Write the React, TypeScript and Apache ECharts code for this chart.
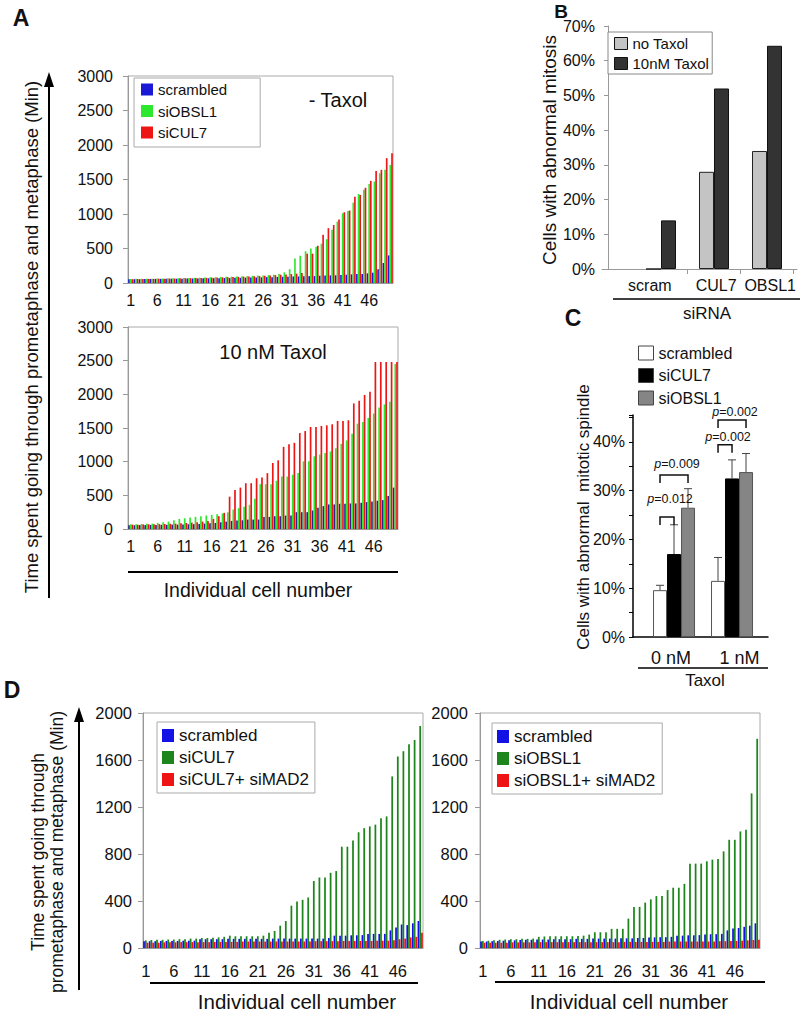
import React, { useEffect, useRef } from 'react';
import * as echarts from 'echarts';

const FONT = 'Liberation Sans, Arial, sans-serif';

// ---------- DATA ----------
const cells = Array.from({ length: 50 }, (_, i) => String(i + 1));

// Panel A, - Taxol
const aNoTaxolScrambled = [55,55,55,58,58,60,60,60,62,62, 62,65,65,65,68,68,70,70,72,72, 75,75,78,80,80,82,85,85,88,90, 92,95,95,98,100,100,105,108,110,112, 115,120,125,130,130,140,150,200,290,400];
const aNoTaxolOBSL1 = [58,60,60,62,62,65,65,68,70,70, 72,72,75,78,80,82,85,88,90,92, 95,98,100,105,108,110,115,120,130,155, 200,355,395,460,500,525,570,635,770,890, 1010,1045,1165,1290,1350,1435,1470,1590,1640,1710];
const aNoTaxolCUL7 = [55,58,58,60,60,62,62,65,65,68, 70,70,72,72,75,78,80,82,85,88, 90,92,95,98,100,105,110,115,120,125, 130,135,145,425,425,540,700,795,840,920, 1025,1050,1250,1275,1380,1480,1625,1640,1810,1880];
// Panel A, 10 nM Taxol
const aTaxolScrambled = [55,55,58,58,60,60,62,62,65,65, 68,70,72,75,80,85,90,100,110,120, 125,130,140,140,140,180,180,190,190,200, 200,250,250,250,275,315,340,365,365,375, 375,380,380,390,400,410,420,430,490,615];
const aTaxolOBSL1 = [70,72,75,78,80,90,100,110,130,150, 160,170,180,190,200,210,220,230,250,290, 310,330,360,450,665,665,665,715,780,780, 805,830,1005,1005,1080,1105,1130,1150,1200,1265, 1315,1415,1565,1590,1650,1715,1805,1850,1890,2450];
const aTaxolCUL7 = [65,65,68,70,70,72,75,78,80,85, 90,95,100,110,120,150,190,240,480,580, 615,680,680,755,765,830,980,1020,1220,1260, 1280,1425,1455,1515,1515,1530,1540,1555,1605,1605, 1615,1865,1905,1990,2040,2480,2480,2480,2480,2480];

// Panel B
const bCategories = ['scram', 'CUL7', 'OBSL1'];
const bNoTaxol = [0, 28, 34];
const bTaxol = [14, 52, 64.3];

// Panel C
const cDoses = ['0 nM', '1 nM'];
const cScrambled = [9.6, 11.5];
const cCUL7 = [17.0, 32.5];
const cOBSL1 = [26.5, 33.8];
const cScrambledErr = [1.0, 4.8];
const cCUL7Err = [6.0, 3.8];
const cOBSL1Err = [3.9, 3.8];
const cBrackets = [
  { dose: 1, from: 0, to: 2, level: 33.2, labelLevel: 35.4, p: '0.009' },
  { dose: 1, from: 0, to: 1, level: 24.6, labelLevel: 28.3, p: '0.012' },
  { dose: 2, from: 0, to: 2, level: 44.5, labelLevel: 46.2, p: '0.002' },
  { dose: 2, from: 0, to: 1, level: 39.4, labelLevel: 40.9, p: '0.002' },
];

// Panel D
const dCUL7Scrambled = [58,58,58,60,60,60,60,62,62,62, 75,75,75,75,75,78,78,78,78,78, 78,78,78,80,80,80,80,80,80,80, 80,80,80,85,105,105,105,108,108,110, 120,120,120,120,150,175,200,195,210,230];
const dCUL7 = [65,68,70,70,72,72,75,75,80,80, 85,85,88,90,95,105,100,100,100,100, 100,105,130,145,190,230,360,395,410,430, 570,600,600,640,655,862,862,915,985,1020, 1035,1050,1105,1120,1460,1630,1675,1735,1770,1890];
const dCUL7MAD2 = [45,45,45,48,48,48,50,50,50,50, 50,50,52,52,52,52,52,55,55,55, 55,55,55,55,55,55,55,55,55,55, 58,58,58,58,58,60,60,60,60,60, 60,62,62,62,65,75,80,90,95,130];
const dOBSL1Scrambled = [55,55,58,60,62,65,65,68,70,70, 72,72,72,75,75,75,75,78,78,78, 80,80,80,80,80,82,82,82,85,85, 90,90,92,92,95,105,105,108,108,110, 115,117,118,120,150,165,170,180,190,210];
const dOBSL1 = [60,62,65,70,72,75,75,78,78,80, 95,98,100,100,100,100,100,102,105,114, 134,134,134,163,163,163,250,350,350,386, 414,442,442,493,513,513,546,718,718,718, 738,752,758,822,921,921,992,1006,1316,1780];
const dOBSL1MAD2 = [45,45,45,45,45,48,48,48,48,48, 50,50,50,50,50,50,50,50,50,50, 50,50,50,50,50,52,52,52,52,52, 52,52,52,55,55,55,55,55,55,55, 55,55,58,58,60,60,62,65,68,70];

// label anchor positions on the value-type x axes of B and C (in category units)
const bLabelAt = [0.79, 2.04, 3.06];
const cLabelAt = [0.95, 2.13];

const strip = (n: string) => n.slice(n.indexOf(':') + 1);
const plain = (v: number) => String(v);

function buildOption() {
  const grids = [
    { left: 128, top: 76, width: 265, height: 207, show: true, borderColor: '#aaa', borderWidth: 1 },
    { left: 128, top: 327, width: 270, height: 202, show: true, borderColor: '#aaa', borderWidth: 1 },
    { left: 602, top: 26, width: 195, height: 243 },
    { left: 633, top: 415, width: 135, height: 222 },
    { left: 143, top: 713, width: 280, height: 235, show: true, borderColor: '#aaa', borderWidth: 1 },
    { left: 480, top: 713, width: 280, height: 235, show: true, borderColor: '#aaa', borderWidth: 1 },
  ];

  const cellX = (gi: number, fs: number, margin: number) => ({
    type: 'category', gridIndex: gi, data: cells,
    axisLine: { lineStyle: { color: '#999' } },
    axisTick: { interval: 0, length: 4, lineStyle: { color: '#999' } },
    axisLabel: { interval: 4, fontSize: fs, color: '#111', margin, fontFamily: FONT },
  });
  const cellY = (gi: number, max: number, interval: number, fs: number, margin: number) => ({
    type: 'value', gridIndex: gi, min: 0, max, interval,
    splitLine: { show: false },
    axisLine: { show: true, lineStyle: { color: '#999' } },
    axisTick: { show: true, length: 5, lineStyle: { color: '#999' } },
    axisLabel: { fontSize: fs, color: '#111', margin, fontFamily: FONT, formatter: plain },
  });

  const xAxis: any[] = [
    cellX(0, 16, 9),
    cellX(1, 16, 9),
    {
      type: 'value', gridIndex: 2, min: -0.113, max: 3.566,
      splitLine: { show: false },
      axisLine: { show: true, onZero: false, lineStyle: { color: '#999' } },
      axisTick: { show: true, customValues: [1.5, 2.5, 3.5], length: 5, lineStyle: { color: '#999' } },
      axisLabel: {
        customValues: bLabelAt, fontSize: 16, color: '#111', margin: 8, fontFamily: FONT,
        formatter: (v: number) => { const i = bLabelAt.findIndex((p) => Math.abs(p - v) < 0.01); return i >= 0 ? bCategories[i] : ''; },
      },
    },
    {
      type: 'value', gridIndex: 3, min: 0.293, max: 2.62,
      splitLine: { show: false },
      axisLine: { show: true, onZero: false, lineStyle: { color: '#000', width: 1.5 } },
      axisTick: { show: false },
      axisLabel: {
        customValues: cLabelAt, fontSize: 18, color: '#111', margin: 12, fontFamily: FONT,
        formatter: (v: number) => { const i = cLabelAt.findIndex((p) => Math.abs(p - v) < 0.01); return i >= 0 ? cDoses[i] : ''; },
      },
    },
    cellX(4, 16.5, 14),
    cellX(5, 16.5, 14),
  ];

  const yAxis: any[] = [
    cellY(0, 3000, 500, 16, 15),
    cellY(1, 3000, 500, 16, 15),
    {
      type: 'value', gridIndex: 2, min: 0, max: 70, interval: 10,
      splitLine: { show: false },
      axisLine: { show: true, lineStyle: { color: '#999' } },
      axisTick: { show: true, length: 4, lineStyle: { color: '#999' } },
      axisLabel: { fontSize: 16, color: '#111', margin: 7, fontFamily: FONT, formatter: (v: number) => v + '%' },
    },
    {
      type: 'value', gridIndex: 3, min: 0, max: 45.5, interval: 5,
      splitLine: { show: false },
      axisLine: { show: true, lineStyle: { color: '#000', width: 1.5 } },
      axisTick: { show: true, length: 4, lineStyle: { color: '#000' } },
      axisLabel: { fontSize: 16, color: '#111', margin: 8, fontFamily: FONT, formatter: (v: number) => (v % 10 === 0 && v <= 40 ? v + '%' : '') },
    },
    cellY(4, 2000, 400, 16.5, 11),
    cellY(5, 2000, 400, 16.5, 12),
  ];

  const cellBar = (name: string, data: number[], color: string, ai: number) => ({
    type: 'bar', name, xAxisIndex: ai, yAxisIndex: ai, data,
    itemStyle: { color }, barGap: '0%', barCategoryGap: '6%', silent: true,
  });

  const series: any[] = [
    cellBar('A1:scrambled', aNoTaxolScrambled, '#1a1ad6', 0),
    cellBar('A1:siOBSL1', aNoTaxolOBSL1, '#2ee82e', 0),
    cellBar('A1:siCUL7', aNoTaxolCUL7, '#ee1515', 0),
    cellBar('A2:scrambled', aTaxolScrambled, '#26268a', 1),
    cellBar('A2:siOBSL1', aTaxolOBSL1, '#2ee82e', 1),
    cellBar('A2:siCUL7', aTaxolCUL7, '#ee1515', 1),
    {
      type: 'bar', name: 'B:no Taxol', xAxisIndex: 2, yAxisIndex: 2, barWidth: 15, barGap: '0%',
      data: bNoTaxol.map((v, i) => [i + 1, v]),
      itemStyle: { color: '#c4c4c4', borderColor: '#222', borderWidth: 1 },
    },
    {
      type: 'bar', name: 'B:10nM Taxol', xAxisIndex: 2, yAxisIndex: 2, barWidth: 15, barGap: '0%',
      data: bTaxol.map((v, i) => [i + 1, v]),
      itemStyle: { color: '#333333', borderColor: '#111', borderWidth: 1 },
    },
    {
      type: 'bar', name: 'C:scrambled', xAxisIndex: 3, yAxisIndex: 3, barWidth: 14, barGap: '0%',
      data: cScrambled.map((v, i) => [i + 1, v]),
      itemStyle: { color: '#ffffff', borderColor: '#555', borderWidth: 1 },
    },
    {
      type: 'bar', name: 'C:siCUL7', xAxisIndex: 3, yAxisIndex: 3, barWidth: 14, barGap: '0%',
      data: cCUL7.map((v, i) => [i + 1, v]),
      itemStyle: { color: '#000000', borderColor: '#000', borderWidth: 1 },
    },
    {
      type: 'bar', name: 'C:siOBSL1', xAxisIndex: 3, yAxisIndex: 3, barWidth: 14, barGap: '0%',
      data: cOBSL1.map((v, i) => [i + 1, v]),
      itemStyle: { color: '#858585', borderColor: '#555', borderWidth: 1 },
    },
    {
      type: 'custom', name: 'C:err', xAxisIndex: 3, yAxisIndex: 3, z: 5, silent: true,
      data: [
        ...cScrambled.map((v, i) => [i + 1, 0, v, v + cScrambledErr[i]]),
        ...cCUL7.map((v, i) => [i + 1, 1, v, v + cCUL7Err[i]]),
        ...cOBSL1.map((v, i) => [i + 1, 2, v, v + cOBSL1Err[i]]),
      ],
      encode: { x: 0, y: 2 },
      renderItem: (params: any, api: any) => {
        const x = api.value(0), k = api.value(1), m = api.value(2), u = api.value(3);
        const p0 = api.coord([x, m]);
        const p1 = api.coord([x, u]);
        const cx = p0[0] + (k - 1) * 14;
        return {
          type: 'group',
          children: [
            { type: 'line', shape: { x1: cx, y1: p0[1], x2: cx, y2: p1[1] }, style: { stroke: '#444', lineWidth: 1 } },
            { type: 'line', shape: { x1: cx - 4, y1: p1[1], x2: cx + 4, y2: p1[1] }, style: { stroke: '#444', lineWidth: 1 } },
          ],
        };
      },
    },
    {
      type: 'custom', name: 'C:brackets', xAxisIndex: 3, yAxisIndex: 3, z: 6, silent: true,
      data: cBrackets.map((b) => [b.dose, b.level]),
      renderItem: (params: any, api: any) => {
        const b = cBrackets[params.dataIndex];
        const c = api.coord([b.dose, b.level]);
        const x1 = c[0] + (b.from - 1) * 14;
        const x2 = c[0] + (b.to - 1) * 14;
        const y = c[1];
        const ly = api.coord([b.dose, b.labelLevel])[1];
        return {
          type: 'group',
          children: [
            { type: 'polyline', shape: { points: [[x1, y + 8], [x1, y], [x2, y], [x2, y + 8]] }, style: { stroke: '#111', lineWidth: 1.5, fill: null } },
            {
              type: 'text', x: (x1 + x2) / 2 + 3, y: ly,
              style: {
                text: '{i|p}=' + b.p, fontSize: 12.5, fontFamily: FONT, fill: '#111',
                align: 'center', verticalAlign: 'middle',
                rich: { i: { fontStyle: 'italic', fontSize: 12.5, fontFamily: FONT, fill: '#111' } },
              },
            },
          ],
        };
      },
    },
    cellBar('D1:scrambled', dCUL7Scrambled, '#1212e6', 4),
    cellBar('D1:siCUL7', dCUL7, '#1c861c', 4),
    cellBar('D1:siCUL7+ siMAD2', dCUL7MAD2, '#ee1414', 4),
    cellBar('D2:scrambled', dOBSL1Scrambled, '#1212e6', 5),
    cellBar('D2:siOBSL1', dOBSL1, '#1c861c', 5),
    cellBar('D2:siOBSL1+ siMAD2', dOBSL1MAD2, '#ee1414', 5),
  ];

  const legBase = {
    orient: 'vertical', icon: 'rect', selectedMode: false, formatter: strip,
    backgroundColor: '#fff',
  };
  const legend: any[] = [
    {
      ...legBase, left: 134, top: 78, padding: [4, 33, 7, 7], borderColor: '#aaa', borderWidth: 1,
      itemWidth: 12, itemHeight: 12, itemGap: 6.5,
      data: ['A1:scrambled', 'A1:siOBSL1', 'A1:siCUL7'],
      textStyle: { fontSize: 15, lineHeight: 15, color: '#111', fontFamily: FONT },
    },
    {
      ...legBase, left: 608, top: 32, padding: [4, 3, 3, 6], borderColor: '#888', borderWidth: 1,
      itemWidth: 13, itemHeight: 12, itemGap: 5, itemStyle: { borderColor: '#111', borderWidth: 1 },
      data: ['B:no Taxol', 'B:10nM Taxol'],
      textStyle: { fontSize: 15, lineHeight: 15, color: '#111', fontFamily: FONT },
    },
    {
      ...legBase, left: 638, top: 345, padding: 0, backgroundColor: 'transparent',
      itemWidth: 15, itemHeight: 14, itemGap: 6.5, itemStyle: { borderColor: '#444', borderWidth: 1 },
      data: ['C:scrambled', 'C:siCUL7', 'C:siOBSL1'],
      textStyle: { fontSize: 16, lineHeight: 15, color: '#111', fontFamily: FONT },
    },
    {
      ...legBase, left: 157, top: 722, padding: [5, 6, 5, 5], borderColor: '#aaa', borderWidth: 1,
      itemWidth: 12, itemHeight: 13, itemGap: 5,
      data: ['D1:scrambled', 'D1:siCUL7', 'D1:siCUL7+ siMAD2'],
      textStyle: { fontSize: 17, lineHeight: 17, color: '#111', fontFamily: FONT },
    },
    {
      ...legBase, left: 492, top: 723, padding: [5, 7, 5, 5], borderColor: '#aaa', borderWidth: 1,
      itemWidth: 12, itemHeight: 13, itemGap: 5,
      data: ['D2:scrambled', 'D2:siOBSL1', 'D2:siOBSL1+ siMAD2'],
      textStyle: { fontSize: 17, lineHeight: 17, color: '#111', fontFamily: FONT },
    },
  ];

  const T = (text: string, x: number, y: number, size: number, rot = 0, bold = false) => ({
    type: 'text', x, y, rotation: rot, silent: true,
    style: {
      text, fontSize: size, fontFamily: FONT, fontWeight: bold ? 'bold' : 'normal', fill: '#111',
      align: 'center', verticalAlign: 'middle', textAlign: 'center', textVerticalAlign: 'middle',
    },
  });
  const L = (x1: number, y1: number, x2: number, y2: number, w = 2) => ({
    type: 'line', silent: true, shape: { x1, y1, x2, y2 }, style: { stroke: '#000', lineWidth: w },
  });
  const P = (pts: number[][]) => ({ type: 'polygon', silent: true, shape: { points: pts }, style: { fill: '#000' } });
  const R = Math.PI / 2;

  const graphic = [
    T('A', 21, 18, 23, 0, true),
    T('B', 561, 11, 19, 0, true),
    T('C', 573, 318, 23, 0, true),
    T('D', 12, 690, 23, 0, true),
    T('- Taxol', 338, 100, 20),
    T('10 nM Taxol', 273, 352, 20),
    T('Time spent going through prometaphase and metaphase (Min)', 31, 337, 18.5, R),
    L(49, 598, 49, 84, 2),
    P([[49, 72], [44, 87], [54, 87]]),
    L(128, 572, 398, 572, 2),
    T('Individual cell number', 258, 590, 19.5),
    T('Cells with abnormal mitosis', 549, 150, 19, R),
    L(613, 299, 800, 299, 1.5),
    T('siRNA', 707, 313, 17),
    T('Cells with abnormal  mitotic spindle', 583, 517, 17, R),
    L(638, 668, 768, 668, 1.5),
    T('Taxol', 705, 680, 17),
    T('Time spent going through', 38, 852, 17.5, R),
    T('prometaphase and metaphase (Min)', 57, 852, 17.5, R),
    L(79, 990, 79, 719, 2),
    P([[79, 707], [74, 722], [84, 722]]),
    L(150, 983, 418, 983, 2),
    L(495, 982, 765, 982, 2),
    T('Individual cell number', 297, 1001, 20.5),
    T('Individual cell number', 629, 1001, 20.5),
  ];

  return {
    animation: false,
    backgroundColor: '#fff',
    textStyle: { fontFamily: FONT },
    grid: grids,
    xAxis,
    yAxis,
    legend,
    series,
    graphic,
  };
}

export default function App() {
  const ref = useRef<HTMLDivElement>(null);
  useEffect(() => {
    if (!ref.current) return;
    const chart = echarts.init(ref.current, undefined, { renderer: 'svg' });
    chart.setOption(buildOption() as any);
    return () => chart.dispose();
  }, []);
  return (
    <div
      ref={ref}
      style={{ position: 'absolute', left: 0, top: 0, width: 800, height: 1012, background: '#fff' }}
    />
  );
}
